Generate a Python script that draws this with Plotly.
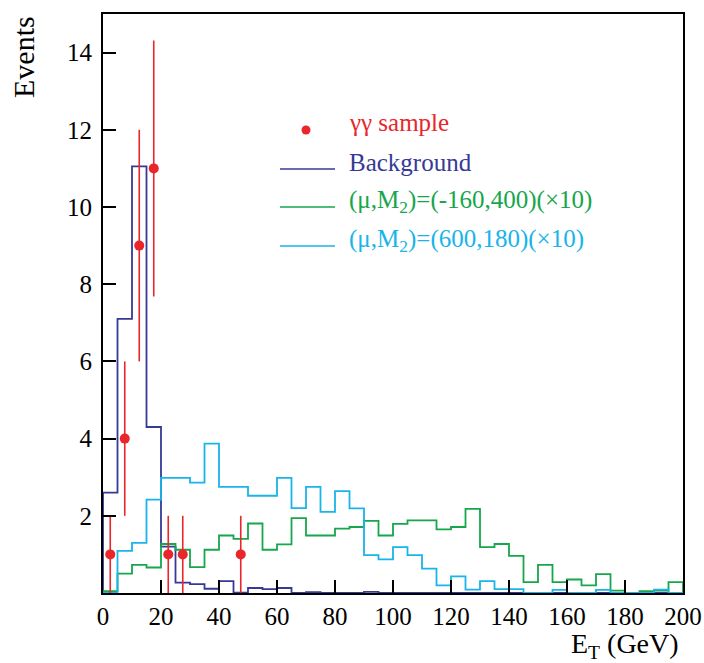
import numpy as np
import plotly.graph_objects as go

# ---- data ----
bin_edges = list(range(0, 205, 5))  # 0..200 GeV, 5 GeV bins

background = [2.6, 7.1, 11.05, 4.3, 1.2, 0.27, 0.23, 0.11, 0.31, 0.01,
              0.13, 0.1, 0.13, 0.0, 0.02, 0.0, 0.0, 0.0, 0.03, 0.0,
              0.0, 0.0, 0.0, 0.0, 0.0, 0.0, 0.0, 0.0, 0.0, 0.0,
              0.0, 0.0, 0.0, 0.0, 0.0, 0.0, 0.0, 0.0, 0.0, 0.0]

signal_green = [0.05, 0.5, 0.73, 0.66, 1.27, 1.12, 0.67, 1.12, 1.49, 1.4,
                1.8, 1.12, 1.26, 1.94, 1.49, 1.49, 1.67, 1.71, 1.87, 1.49,
                1.79, 1.88, 1.88, 1.65, 1.71, 2.18, 1.19, 1.27, 0.96, 0.28,
                0.73, 0.28, 0.35, 0.2, 0.49, 0.06, 0.0, 0.05, 0.06, 0.28]

signal_cyan = [0.0, 1.09, 1.3, 2.42, 2.98, 2.98, 2.86, 3.87, 2.75, 2.75,
               2.52, 2.52, 2.98, 2.2, 2.75, 2.1, 2.64, 2.19, 0.98, 0.87,
               1.19, 0.98, 0.63, 0.2, 0.43, 0.09, 0.31, 0.1, 0.1, 0.0,
               0.0, 0.08, 0.0, 0.0, 0.08, 0.0, 0.0, 0.0, 0.09, 0.0]

data_x = [2.5, 7.5, 12.5, 17.5, 22.5, 27.5, 47.5]
data_y = [1, 4, 9, 11, 1, 1, 1]

x_ticks = [0, 20, 40, 60, 80, 100, 120, 140, 160, 180, 200]
y_ticks = [2, 4, 6, 8, 10, 12, 14]

legend_labels = ["γγ sample", "Background",
                 "(μ,M<sub>2</sub>)=(-160,400)(×10)",
                 "(μ,M<sub>2</sub>)=(600,180)(×10)"]

C_RED = "#e8262b"
C_BLUE = "#363a96"
C_GREEN = "#16a64c"
C_CYAN = "#18b4ea"
FONT = "Liberation Serif"


def step_xy(edges, vals):
    xs = [edges[0]] + list(edges[:-1]) + [edges[-1], edges[-1]]
    ys = [0] + list(vals) + [vals[-1], 0]
    return xs, ys


fig = go.Figure()
for vals, col in [(background, C_BLUE), (signal_green, C_GREEN), (signal_cyan, C_CYAN)]:
    xs, ys = step_xy(bin_edges, vals)
    fig.add_trace(go.Scatter(x=xs, y=ys, mode="lines", line=dict(color=col, width=1.8, shape="hv"),
                             showlegend=False, hoverinfo="skip", cliponaxis=False))

fig.add_trace(go.Scatter(
    x=data_x, y=data_y, mode="markers",
    marker=dict(color=C_RED, size=10),
    error_y=dict(type="data", array=list(np.sqrt(data_y)), color=C_RED, thickness=1.6, width=0),
    showlegend=False))

W, H = 704, 663
L, R, T, B = 103, 21, 14, 70
pw, ph = W - L - R, H - T - B


def px(xp):
    return (xp - L) / pw


def py(yp):
    return (H - B - yp) / ph


fig.update_layout(
    width=W, height=H,
    margin=dict(l=L, r=R, t=T, b=B, autoexpand=False),
    plot_bgcolor="white", paper_bgcolor="white",
    font=dict(family=FONT, size=25, color="black"),
    xaxis=dict(range=[0, 200], tickvals=x_ticks, ticks="inside", ticklen=13, tickwidth=1.5,
               tickcolor="black", showline=True, linecolor="black", linewidth=2, mirror=True,
               showgrid=False, zeroline=False, tickfont=dict(size=25), automargin=False),
    yaxis=dict(range=[0, 15], tickvals=y_ticks, ticks="inside", ticklen=13, tickwidth=1.5,
               tickcolor="black", showline=True, linecolor="black", linewidth=2, mirror=True,
               showgrid=False, zeroline=False, tickfont=dict(size=25), ticklabelstandoff=4,
               automargin=False),
)

annotations = [
    dict(text="E<sub>T</sub> (GeV)", x=px(681), y=py(645), xref="paper", yref="paper",
         xanchor="right", yanchor="middle", showarrow=False, font=dict(size=28)),
    dict(text="Events", x=px(23), y=py(57), xref="paper", yref="paper", textangle=-90,
         xanchor="center", yanchor="middle", showarrow=False, font=dict(size=30)),
]
legend_colors = [C_RED, C_BLUE, C_GREEN, C_CYAN]
legend_text_y = [123, 162, 202, 240]
for lab, col, yy in zip(legend_labels, legend_colors, legend_text_y):
    annotations.append(dict(text=lab, x=px(347), y=py(yy), xref="paper", yref="paper",
                            xanchor="left", yanchor="middle", showarrow=False,
                            font=dict(size=25, color=col)))
fig.update_layout(annotations=annotations)

shapes = [dict(type="circle", xref="paper", yref="paper",
               x0=px(301.5), x1=px(310.5), y0=py(134.5), y1=py(125.5),
               fillcolor=C_RED, line=dict(width=0))]
for col, yy in zip([C_BLUE, C_GREEN, C_CYAN], [169, 207, 246]):
    shapes.append(dict(type="line", xref="paper", yref="paper", x0=px(280), x1=px(335),
                       y0=py(yy), y1=py(yy), line=dict(color=col, width=1.6)))
fig.update_layout(shapes=shapes)

fig.write_html("out.html", config={"displayModeBar": False},
               post_script="document.body.style.margin='0px';document.body.style.overflow='hidden';")
